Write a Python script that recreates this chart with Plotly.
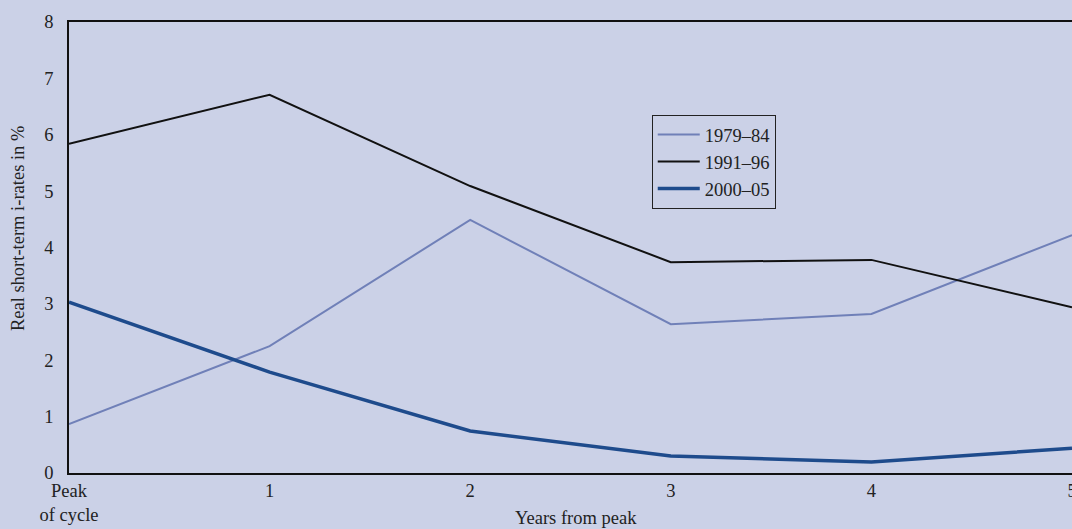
import plotly.graph_objects as go

years = [0, 1, 2, 3, 4, 5]
tick_text = ["Peak<br>of cycle", "1", "2", "3", "4", "5"]
s_1979_84 = [0.87, 2.25, 4.49, 2.64, 2.82, 4.22]
s_1991_96 = [5.84, 6.71, 5.09, 3.74, 3.78, 2.94]
s_2000_05 = [3.03, 1.79, 0.745, 0.30, 0.195, 0.44]

BG = "#cbd1e7"
FONT = "Liberation Serif"
TXT = "#222222"
FS = 18.5

fig = go.Figure()
fig.add_trace(go.Scatter(x=years, y=s_1979_84, mode="lines", name="1979–84",
                         line=dict(color="#7080b8", width=2)))
fig.add_trace(go.Scatter(x=years, y=s_1991_96, mode="lines", name="1991–96",
                         line=dict(color="#111111", width=2)))
fig.add_trace(go.Scatter(x=years, y=s_2000_05, mode="lines", name="2000–05",
                         line=dict(color="#1e4b8c", width=3.5)))

fig.update_layout(
    width=1072, height=529,
    paper_bgcolor=BG, plot_bgcolor=BG,
    font=dict(family=FONT, size=FS, color=TXT),
    margin=dict(l=69, r=0, t=22, b=56),
    showlegend=True,
    legend=dict(x=0.581, y=0.794, xanchor="left", yanchor="top",
                bgcolor=BG, bordercolor="#222222", borderwidth=1,
                font=dict(family=FONT, size=FS, color=TXT),
                tracegroupgap=0, itemwidth=42),
    xaxis=dict(range=[0, 5], tickmode="array", tickvals=years, ticktext=tick_text,
               showgrid=False, zeroline=False, showline=True, linecolor="#111111",
               linewidth=1.5, mirror=True, ticks="", ticklabelstandoff=0,
               ticklabeloverflow="allow", automargin=False),
    yaxis=dict(range=[0, 8], tickvals=list(range(0, 9)), showgrid=False, zeroline=False,
               showline=True, linecolor="#111111", linewidth=1.5, ticks="",
               ticklabelstandoff=10, automargin=False),
    annotations=[
        dict(text="Years from peak", xref="paper", yref="paper",
             x=0.5055, y=0, yshift=-45, xanchor="center", yanchor="middle",
             showarrow=False, font=dict(family=FONT, size=FS, color=TXT)),
        dict(text="Real short-term i-rates in %", xref="paper", yref="paper",
             x=0, xshift=-51, y=0.543, xanchor="center", yanchor="middle",
             textangle=-90, showarrow=False,
             font=dict(family=FONT, size=FS, color=TXT)),
    ],
)

fig.write_html(
    "out.html",
    config={"displayModeBar": False},
    post_script="document.body.style.margin='0';"
                "document.documentElement.style.overflow='hidden';"
                "document.body.style.overflow='hidden';",
)
